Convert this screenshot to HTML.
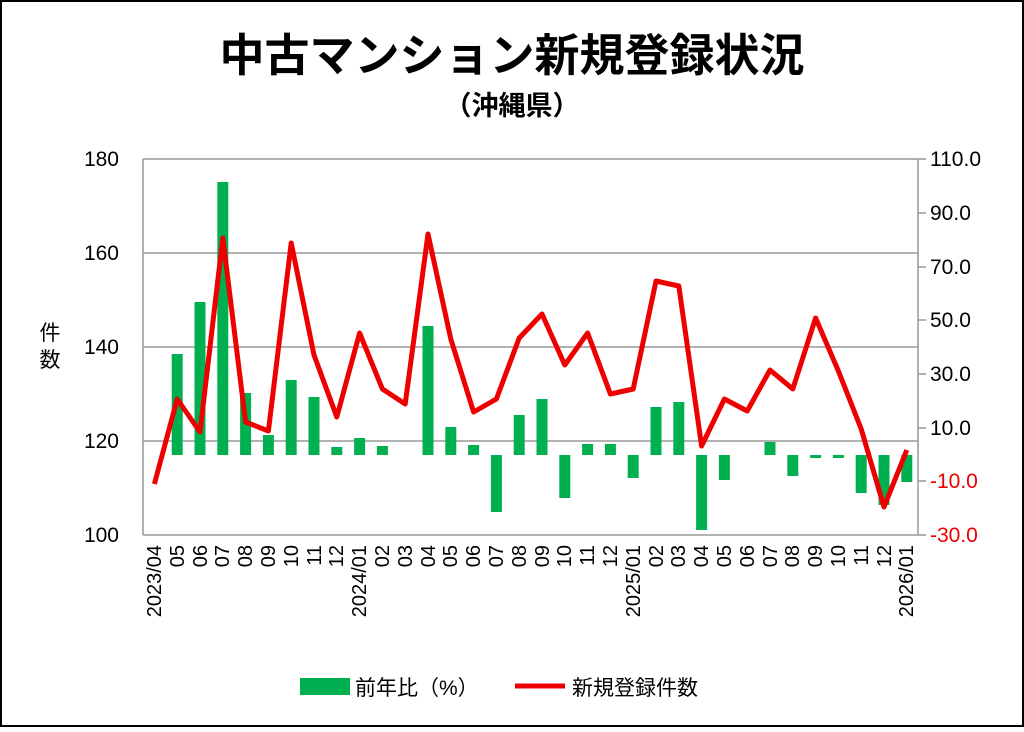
<!DOCTYPE html>
<html><head><meta charset="utf-8"><style>
body{margin:0;background:#fff}
svg text{font-family:"Liberation Sans","Noto Sans CJK JP",sans-serif}
</style></head><body>
<svg width="1024" height="727" xmlns="http://www.w3.org/2000/svg">
<rect x="1" y="1" width="1022" height="725" fill="#fff" stroke="#000" stroke-width="2"/>
<text x="512" y="71" text-anchor="middle" font-size="45" font-weight="bold">中古マンション新規登録状況</text>
<text x="512" y="115" text-anchor="middle" font-size="27" font-weight="bold">（沖縄県）</text>
<g stroke="#999" stroke-width="1.5">
<line x1="143" y1="159" x2="918" y2="159"/>
<line x1="143" y1="253" x2="918" y2="253"/>
<line x1="143" y1="347" x2="918" y2="347"/>
<line x1="143" y1="441" x2="918" y2="441"/>
<line x1="143" y1="159" x2="143" y2="535"/>
<line x1="918" y1="159" x2="918" y2="535"/>
<line x1="143" y1="535" x2="918" y2="535"/>
<line x1="918" y1="159" x2="926" y2="159"/><line x1="918" y1="213" x2="926" y2="213"/><line x1="918" y1="267" x2="926" y2="267"/><line x1="918" y1="320" x2="926" y2="320"/><line x1="918" y1="374" x2="926" y2="374"/><line x1="918" y1="428" x2="926" y2="428"/><line x1="918" y1="481" x2="926" y2="481"/><line x1="918" y1="535" x2="926" y2="535"/>
</g>
<g font-size="21" text-anchor="end">
<text x="119" y="166">180</text><text x="119" y="260">160</text><text x="119" y="354">140</text><text x="119" y="448">120</text><text x="119" y="542">100</text>
</g>
<g font-size="21" text-anchor="start">
<text x="930" y="166">110.0</text><text x="930" y="220">90.0</text><text x="930" y="274">70.0</text><text x="930" y="327">50.0</text><text x="930" y="381">30.0</text><text x="930" y="435">10.0</text>
<text x="930" y="488" fill="#e00">-10.0</text><text x="930" y="542" fill="#e00">-30.0</text>
</g>
<text x="50" y="340" font-size="21" text-anchor="middle">件</text>
<text x="50" y="367" font-size="21" text-anchor="middle">数</text>
<g fill="#00b050">
<rect x="171.7" y="354" width="11" height="101"/>
<rect x="194.5" y="302" width="11" height="153"/>
<rect x="217.3" y="182" width="11" height="273"/>
<rect x="240.1" y="393" width="11" height="62"/>
<rect x="262.9" y="435" width="11" height="20"/>
<rect x="285.7" y="380" width="11" height="75"/>
<rect x="308.5" y="397" width="11" height="58"/>
<rect x="331.3" y="447" width="11" height="8"/>
<rect x="354.1" y="438" width="11" height="17"/>
<rect x="376.9" y="446" width="11" height="9"/>
<rect x="422.5" y="326" width="11" height="129"/>
<rect x="445.3" y="427" width="11" height="28"/>
<rect x="468.1" y="445" width="11" height="10"/>
<rect x="490.9" y="455" width="11" height="57"/>
<rect x="513.7" y="415" width="11" height="40"/>
<rect x="536.5" y="399" width="11" height="56"/>
<rect x="559.3" y="455" width="11" height="43"/>
<rect x="582.1" y="444" width="11" height="11"/>
<rect x="604.9" y="444" width="11" height="11"/>
<rect x="627.7" y="455" width="11" height="23"/>
<rect x="650.5" y="407" width="11" height="48"/>
<rect x="673.3" y="402" width="11" height="53"/>
<rect x="696.1" y="455" width="11" height="75"/>
<rect x="718.9" y="455" width="11" height="25"/>
<rect x="764.5" y="442" width="11" height="13"/>
<rect x="787.3" y="455" width="11" height="21"/>
<rect x="810.1" y="455" width="11" height="3"/>
<rect x="832.9" y="455" width="11" height="3"/>
<rect x="855.7" y="455" width="11" height="38"/>
<rect x="878.5" y="455" width="11" height="50"/>
<rect x="901.3" y="455" width="11" height="27"/>
</g>
<polyline fill="none" stroke="#e00" stroke-width="5" stroke-linejoin="round" points="154.4,484 177.2,399 200,432 222.8,238 245.6,422 268.4,431 291.2,243 314,355 336.8,417 359.6,333 382.4,389 405.2,404 428,234 450.8,339 473.6,412 496.4,399 519.2,338 542,314 564.8,365 587.6,333 610.4,394 633.2,389 656,281 678.8,286 701.6,446 724.4,399 747.2,411 770,370 792.8,389 815.6,318 838.4,371 861.2,429 884,507 906.8,450"/>
<g font-size="20" text-anchor="end">
<text transform="translate(161,545) rotate(-90)">2023/04</text>
<text transform="translate(184,545) rotate(-90)">05</text>
<text transform="translate(207,545) rotate(-90)">06</text>
<text transform="translate(229,545) rotate(-90)">07</text>
<text transform="translate(252,545) rotate(-90)">08</text>
<text transform="translate(275,545) rotate(-90)">09</text>
<text transform="translate(298,545) rotate(-90)">10</text>
<text transform="translate(321,545) rotate(-90)">11</text>
<text transform="translate(343,545) rotate(-90)">12</text>
<text transform="translate(366,545) rotate(-90)">2024/01</text>
<text transform="translate(389,545) rotate(-90)">02</text>
<text transform="translate(412,545) rotate(-90)">03</text>
<text transform="translate(435,545) rotate(-90)">04</text>
<text transform="translate(457,545) rotate(-90)">05</text>
<text transform="translate(480,545) rotate(-90)">06</text>
<text transform="translate(503,545) rotate(-90)">07</text>
<text transform="translate(526,545) rotate(-90)">08</text>
<text transform="translate(549,545) rotate(-90)">09</text>
<text transform="translate(571,545) rotate(-90)">10</text>
<text transform="translate(594,545) rotate(-90)">11</text>
<text transform="translate(617,545) rotate(-90)">12</text>
<text transform="translate(640,545) rotate(-90)">2025/01</text>
<text transform="translate(663,545) rotate(-90)">02</text>
<text transform="translate(685,545) rotate(-90)">03</text>
<text transform="translate(708,545) rotate(-90)">04</text>
<text transform="translate(731,545) rotate(-90)">05</text>
<text transform="translate(754,545) rotate(-90)">06</text>
<text transform="translate(777,545) rotate(-90)">07</text>
<text transform="translate(799,545) rotate(-90)">08</text>
<text transform="translate(822,545) rotate(-90)">09</text>
<text transform="translate(845,545) rotate(-90)">10</text>
<text transform="translate(868,545) rotate(-90)">11</text>
<text transform="translate(891,545) rotate(-90)">12</text>
<text transform="translate(913,545) rotate(-90)">2026/01</text>
</g>
<rect x="300" y="678" width="50" height="17" fill="#00b050"/>
<text x="355" y="695" font-size="21">前年比（%）</text>
<line x1="515" y1="686" x2="565" y2="686" stroke="#e00" stroke-width="5"/>
<text x="572" y="695" font-size="21">新規登録件数</text>
</svg>
</body></html>
